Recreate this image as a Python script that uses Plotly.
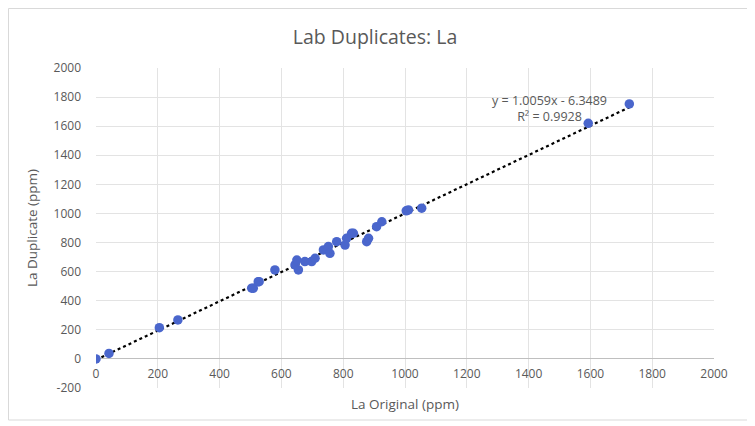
import plotly.graph_objects as go

# Data
la_original = [0, 42, 205, 265, 504, 509, 525, 528, 579, 644, 650, 655, 676, 698,
               709, 736, 752, 757, 779, 806, 811, 827, 833, 876, 882, 908, 925,
               1004, 1011, 1054, 1593, 1726]
la_duplicate = [0, 38, 215, 268, 486, 486, 531, 531, 612, 646, 680, 612, 669, 669,
                692, 749, 772, 726, 806, 783, 829, 864, 864, 806, 829, 909, 943,
                1018, 1024, 1036, 1620, 1753]

slope = 1.0059
intercept = -6.3489
r_squared = 0.9928

x_ticks = list(range(0, 2001, 200))
y_ticks = list(range(-200, 2001, 200))
x_tick_labels = [str(v) for v in x_ticks]
y_tick_labels = [str(v) for v in y_ticks]

y_min, y_max = -200, 2000

trend_x = [min(la_original), max(la_original)]
trend_y = [slope * v + intercept for v in trend_x]

FONT = "Open Sans"
GREY = "#595959"

# page has an 8px body margin, so the figure is drawn 8px in from the top-left
W, H = 747, 418
ML, MR, MT, MB = 88, 41, 60, 38
pw, ph = W - ML - MR, H - MT - MB

fig = go.Figure()
fig.add_trace(go.Scatter(
    x=trend_x, y=trend_y, mode="lines",
    line=dict(color="black", width=2.2, dash="dot"),
    showlegend=False, hoverinfo="skip"))
fig.add_trace(go.Scatter(
    x=la_original, y=la_duplicate, mode="markers",
    marker=dict(color="#4A66CC", size=9.5, line=dict(width=0)),
    showlegend=False))

fig.add_annotation(
    x=1469, y=1725, xref="x", yref="y",
    text=f"y = {slope}x - {abs(intercept)}<br>R² = {r_squared}",
    showarrow=False, xanchor="center", yanchor="middle", align="center",
    font=dict(family=FONT, size=12.5, color=GREY))

# light chart-area border
fig.add_shape(type="rect", xref="paper", yref="paper",
              x0=(0.5 - ML) / pw, x1=(W - 1 - ML) / pw,
              y0=(H - MB - 412) / ph, y1=(H - MB - 0.5) / ph,
              line=dict(color="#D9D9D9", width=1), layer="below")

fig.update_layout(
    width=W, height=H,
    margin=dict(l=ML, r=MR, t=MT, b=MB, autoexpand=False),
    paper_bgcolor="white", plot_bgcolor="white",
    title=dict(text="Lab Duplicates: La", x=(375 - 8) / W, xanchor="center",
               y=(H - 29) / H, yanchor="middle",
               font=dict(family=FONT, size=19.5, color=GREY)),
    font=dict(family=FONT, color=GREY),
)

fig.update_xaxes(
    range=[0, 2000], tickvals=x_ticks, ticktext=x_tick_labels, automargin=False,
    showgrid=True, gridcolor="#E3E3E3", gridwidth=1,
    zeroline=False, showline=False,
    ticks="", tickfont=dict(family=FONT, size=12, color=GREY),
    ticklabelstandoff=6,
    anchor="free", position=(0 - y_min) / (y_max - y_min),
    title=dict(text="La Original (ppm)", font=dict(family=FONT, size=13.5, color=GREY),
               standoff=18),
)
fig.update_yaxes(
    range=[y_min, y_max], tickvals=y_ticks, ticktext=y_tick_labels, automargin=False,
    showgrid=True, gridcolor="#E3E3E3", gridwidth=1,
    zeroline=True, zerolinecolor="#BFBFBF", zerolinewidth=1,
    showline=False, ticks="",
    tickfont=dict(family=FONT, size=12, color=GREY),
    ticklabelstandoff=14,
    title=dict(text="La Duplicate (ppm)", font=dict(family=FONT, size=13.5, color=GREY),
               standoff=12),
)

fig.write_html("out.html")
